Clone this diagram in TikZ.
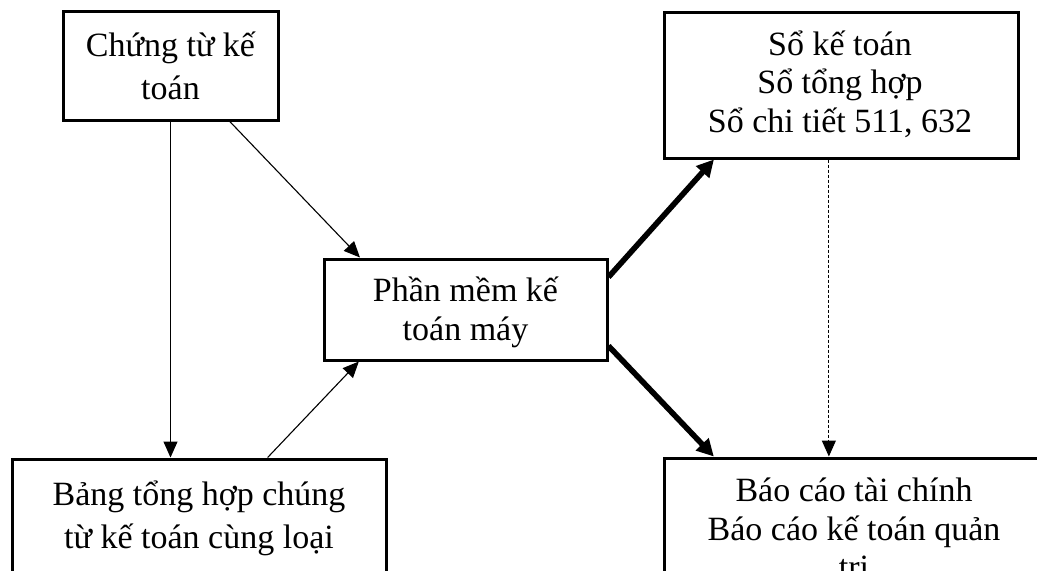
\documentclass[tikz,border=0pt]{standalone}
\usepackage{fontspec}
\setmainfont{Liberation Serif}
\usetikzlibrary{arrows.meta,calc,fit}
\begin{document}
\begin{tikzpicture}[x=0.5pt,y=-0.5pt,
  box/.style={draw, line width=1.5pt, inner sep=0pt},
  txt/.style={inner sep=0pt, align=center, anchor=base},
  narrow/.style={font={\fontsize{17}{19.25}\selectfont}},
  wide/.style={font={\fontsize{17}{21.5}\selectfont}},
  thinarrow/.style={draw, line width=0.55pt, -{Triangle[length=8pt,width=7pt]}},
  thickarrow/.style={draw, line width=2.8pt, -{Triangle[length=8.5pt,width=8.5pt]}},
  dasharrow/.style={draw, line width=0.55pt, dash pattern=on 1.5pt off 1pt, -{Triangle[length=8pt,width=7pt]}}]
\useasboundingbox (0,0) rectangle (1037,570);
\clip (0,0) rectangle (1037,570);
\fill[white] (0,0) rectangle (1037,570);
% boxes
\node[box, fit={(63,11)(278,120)}] (b1) {};
\node[box, fit={(324,259)(607,360)}] (c) {};
\node[box, fit={(664,12)(1018,158)}] (tr) {};
\node[box, fit={(12,459)(386,640)}] (bl) {};
\node[box, fit={(664,458)(1044,640)}] (br) {};
% texts (anchor = baseline of last line)
\node[txt, wide] (t1) at (170.5,99.5) {Chứng từ kế\\toán};
\node[txt, narrow] (tc) at (465.5,340) {Phần mềm kế\\toán máy};
\node[txt, narrow] (ttr) at (840,132) {Sổ kế toán\\Sổ tổng hợp\\Sổ chi tiết 511, 632};
\node[txt, wide] (tbl) at (199,548.5) {Bảng tổng hợp chúng\\từ kế toán cùng loại};
\node[txt, narrow] (tbr) at (854,578.5) {Báo cáo tài chính\\Báo cáo kế toán quản\\trị};
% connectors
\draw[thinarrow] (b1.south) -- (b1.south |- bl.north);
\draw[thinarrow] ($(b1.south west)!0.772!(b1.south east)$) -- ($(c.north west)!0.131!(c.north east)$);
\draw[thinarrow] ($(bl.north west)!0.682!(bl.north east)$) -- ($(c.south west)!0.127!(c.south east)$);
\draw[thickarrow] ($(c.north east)!0.188!(c.south east)$) -- ($(tr.south west)!0.144!(tr.south east)$);
\draw[thickarrow] ($(c.north east)!0.85!(c.south east)$) -- ($(br.north west)!0.134!(br.north east)$);
\coordinate (dtop) at ($(tr.south west)!0.466!(tr.south east)$);
\draw[dasharrow] (dtop) -- (dtop |- br.north);
\end{tikzpicture}
\end{document}
